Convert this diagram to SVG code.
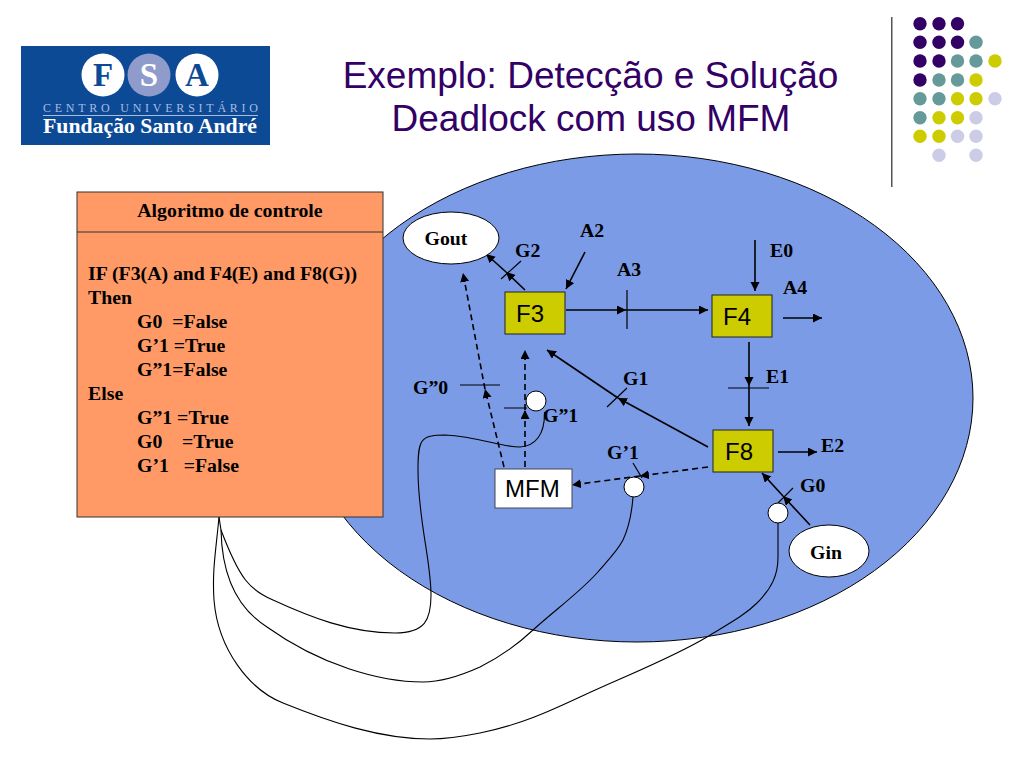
<svg xmlns="http://www.w3.org/2000/svg" width="1024" height="768" viewBox="0 0 1024 768">
<style>
.t{font-family:"Liberation Serif","Times New Roman",serif;font-weight:bold;font-size:19.800px;fill:#000}
.s{font-family:"Liberation Sans",Arial,sans-serif;font-size:24px;fill:#000}
.title{font-family:"Liberation Sans",Arial,sans-serif;font-size:37px;fill:#330066;text-anchor:middle}
.l{fill:none;stroke:#000;stroke-width:1.200}
.a{fill:none;stroke:#000;stroke-width:1.600;marker-end:url(#ah)}
.d{fill:none;stroke:#000;stroke-width:1.600;stroke-dasharray:6 4;marker-end:url(#ah)}
.w{fill:none;stroke:#000;stroke-width:1.100}
.box{fill:#CCCC00;stroke:#222;stroke-width:1}
.o{fill:#fff;stroke:#000;stroke-width:1}
.p{fill:#330066}.g{fill:#669999}.y{fill:#CCCC00}.v{fill:#CCCCE6}
</style>
<defs>
<marker id="ah" markerUnits="userSpaceOnUse" markerWidth="12" markerHeight="10" refX="9" refY="4.500" orient="auto"><path d="M0 0L9 4.500L0 9Z" fill="#000"/></marker>
</defs>
<rect width="1024" height="768" fill="#fff"/>
<g id="logo">
<rect x="21" y="46" width="249" height="99" fill="#0D4A96"/>
<circle cx="103" cy="75" r="21.500" fill="#fff"/><circle cx="149" cy="75" r="21.500" fill="#8F9CCB"/><circle cx="197" cy="75" r="21.500" fill="#fff"/>
<text x="103" y="86" text-anchor="middle" font-family="Liberation Serif" font-weight="bold" font-size="33" fill="#0D4A96">F</text>
<text x="149" y="86" text-anchor="middle" font-family="Liberation Serif" font-weight="bold" font-size="33" fill="#fff">S</text>
<text x="197" y="86" text-anchor="middle" font-family="Liberation Serif" font-weight="bold" font-size="33" fill="#0D4A96">A</text>
<text x="43" y="112" font-family="Liberation Serif" font-size="12" fill="#A9BCE0" textLength="215">CENTRO UNIVERSITÁRIO</text>
<rect x="43" y="115" width="215" height="1" fill="#A9BCE0"/>
<text x="43" y="133" font-family="Liberation Serif" font-weight="bold" font-size="21.500" fill="#fff" textLength="214" lengthAdjust="spacingAndGlyphs">Fundação Santo André</text>
</g>
<g id="title">
<text class="title" x="590.500" y="88">Exemplo: Detecção e Solução</text>
<text class="title" x="591" y="131">Deadlock com uso MFM</text>
</g>
<g id="decor">
<rect x="891" y="17" width="1.500" height="170" fill="#555"/>
<g class="p"><circle cx="920" cy="23.700" r="6.700"/><circle cx="939" cy="23.700" r="6.700"/><circle cx="957.500" cy="23.700" r="6.700"/><circle cx="920" cy="42.300" r="6.700"/><circle cx="939" cy="42.300" r="6.700"/><circle cx="957.500" cy="42.300" r="6.700"/><circle cx="920" cy="61" r="6.700"/><circle cx="939" cy="61" r="6.700"/><circle cx="920" cy="80" r="6.700"/></g>
<g class="g"><circle cx="976" cy="42.300" r="6.700"/><circle cx="957.500" cy="61" r="6.700"/><circle cx="976" cy="61" r="6.700"/><circle cx="939" cy="80" r="6.700"/><circle cx="957.500" cy="80" r="6.700"/><circle cx="920" cy="98.700" r="6.700"/><circle cx="939" cy="98.700" r="6.700"/><circle cx="920" cy="117.700" r="6.700"/></g>
<g class="y"><circle cx="995" cy="61" r="6.700"/><circle cx="976" cy="80" r="6.700"/><circle cx="957.500" cy="98.700" r="6.700"/><circle cx="976" cy="98.700" r="6.700"/><circle cx="939" cy="117.700" r="6.700"/><circle cx="957.500" cy="117.700" r="6.700"/><circle cx="920" cy="136.300" r="6.700"/><circle cx="939" cy="136.300" r="6.700"/></g>
<g class="v"><circle cx="995" cy="98.700" r="6.700"/><circle cx="976" cy="117.700" r="6.700"/><circle cx="957.500" cy="136.300" r="6.700"/><circle cx="976" cy="136.300" r="6.700"/><circle cx="939" cy="155.300" r="6.700"/><circle cx="976" cy="155.300" r="6.700"/></g>
</g>
<ellipse id="region" cx="637" cy="398" rx="336" ry="244" fill="#7B9BE6" stroke="#000" stroke-width="1"/>
<g id="connectors">
<path class="w" d="M219 517C216 550 212 570 214 600C218 650 250 690 283 703C330 722 380 739 430 739C450 739 465 736 480 733C520 725 550 711 580 697C625 676 670 659 707 637C730 623 745 615 757 603C772 588 778 575 778 557L778 522"/>
<path class="w" d="M221 530C222 580 240 610 267 627C320 665 380 682 423 682C442 682 460 676 480 667C500 657 517 645 533 630C555 610 580 592 597 573C610 558 618 550 623 540C630 525 632 510 633 497"/>
<path class="w" d="M219 517L221 530C240 580 250 590 273 600C310 617 350 633 395 633C425 633 431 620 431 595C431 560 418 520 418 470C418 440 420 435 445 435C480 437 500 447 520 447C535 446 545 435 544.500 412"/>
<path class="a" d="M525 290L506 272"/><path class="a" d="M506 272L486 254"/>
<path class="a" d="M585 252L566 289"/>
<path class="a" d="M566 310L626 310"/><path class="a" d="M626 310L708 310"/>
<path class="a" d="M755 240L755 291"/>
<path class="a" d="M783 318L822 318"/>
<path class="a" d="M749 342L749 386"/><path class="a" d="M749 386L749 426"/>
<path class="a" d="M708 447L618 398"/><path class="a" d="M618 398L547 350"/>
<path class="a" d="M778 452L817 452"/>
<path class="a" d="M810 525L783 496"/><path class="a" d="M783 496L762 473"/>
<path class="d" d="M504 467L485 389"/><path class="d" d="M485 389L463 273"/>
<path class="d" d="M525 467L525 410"/><path class="d" d="M525 410L525 350"/>
<path class="d" d="M708 467L640 476"/><path class="d" d="M640 476L572 485"/>
<path class="l" d="M501 279L521 261M627 290L627 329M728 388L769 388M607 407L627 388M460 385L500 385M504 408L527 408M778 503L793 488M633 463L642 478"/>
</g>
<g id="algoritmo">
<rect x="77" y="192" width="306" height="325" fill="#FF9966" stroke="#333" stroke-width="1"/>
<line x1="77" y1="232" x2="383" y2="232" stroke="#333"/>
<text class="t" x="230" y="217" text-anchor="middle">Algoritmo de controle</text>
<text class="t" x="88" y="280">IF (F3(A) and F4(E) and F8(G))</text>
<text class="t" x="88" y="304">Then</text>
<text class="t" x="137" y="328" xml:space="preserve">G0  =False</text>
<text class="t" x="137" y="352">G’1 =True</text>
<text class="t" x="137" y="376">G”1=False</text>
<text class="t" x="88" y="400">Else</text>
<text class="t" x="137" y="424">G”1 =True</text>
<text class="t" x="137" y="448" xml:space="preserve">G0    =True</text>
<text class="t" x="137" y="472" xml:space="preserve">G’1   =False</text>
</g>
<g id="gout"><ellipse class="o" cx="451" cy="238" rx="48" ry="26"/><text class="t" x="446" y="245" text-anchor="middle">Gout</text></g>
<g id="gin"><ellipse class="o" cx="829" cy="551" rx="40" ry="26"/><text class="t" x="826" y="559" text-anchor="middle">Gin</text></g>
<g id="f3"><rect class="box" x="505" y="292" width="60" height="42"/><text class="s" x="516" y="322">F3</text></g>
<g id="f4"><rect class="box" x="712" y="295" width="60" height="42"/><text class="s" x="723" y="325">F4</text></g>
<g id="f8"><rect class="box" x="713" y="430" width="60" height="42"/><text class="s" x="725" y="460">F8</text></g>
<g id="mfm"><rect x="495" y="469" width="77" height="39" fill="#fff" stroke="#445" stroke-width="1"/><text class="s" x="505" y="497">MFM</text></g>
<g id="tokens">
<circle class="o" cx="536" cy="401" r="10"/><circle class="o" cx="634" cy="487" r="10"/><circle class="o" cx="778" cy="513" r="10"/>
</g>
<g id="labels">
<text class="t" x="515" y="257">G2</text><text class="t" x="580" y="237">A2</text><text class="t" x="617" y="276">A3</text><text class="t" x="770" y="257">E0</text><text class="t" x="783" y="294">A4</text><text class="t" x="766" y="383">E1</text><text class="t" x="623" y="385">G1</text><text class="t" x="413" y="394">G”0</text><text class="t" x="543" y="422">G”1</text><text class="t" x="607" y="459">G’1</text><text class="t" x="821" y="452">E2</text><text class="t" x="800" y="492">G0</text>
</g>
</svg>
